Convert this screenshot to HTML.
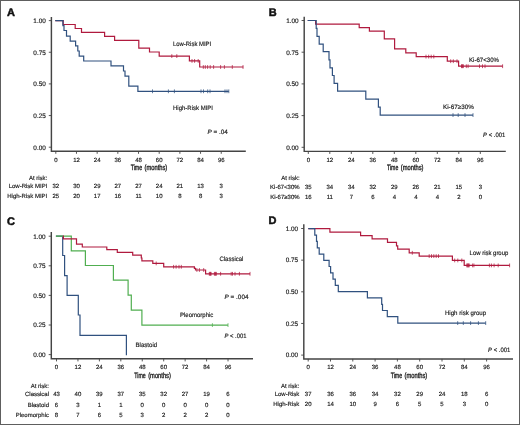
<!DOCTYPE html>
<html><head><meta charset="utf-8"><style>
html,body{margin:0;padding:0;background:#fff;}
.f{position:relative;width:518px;height:423px;border:1px solid #5e5e5e;overflow:hidden;}
svg{position:absolute;left:-1px;top:-1px;will-change:transform;}
text{font-family:"Liberation Sans", sans-serif;text-rendering:geometricPrecision;stroke:#1a1a1a;stroke-width:0.16px;}
</style></head><body><div class="f">
<svg width="520" height="425" viewBox="0 0 520 425">
<text x="7.00" y="16.00" font-size="11" text-anchor="start" font-weight="bold" font-style="normal" fill="#111" style="stroke:#111;stroke-width:0.5px">A</text>
<path d="M51.40 17.00V151.20H245.80" fill="none" stroke="#444" stroke-width="1.45"/>
<path d="M48.80 147.20H51.40" stroke="#444" stroke-width="0.9"/>
<text x="45.80" y="149.50" font-size="6.4" text-anchor="end" font-weight="normal" font-style="normal" fill="#1a1a1a">0.00</text>
<path d="M48.80 115.55H51.40" stroke="#444" stroke-width="0.9"/>
<text x="45.80" y="117.85" font-size="6.4" text-anchor="end" font-weight="normal" font-style="normal" fill="#1a1a1a">0.25</text>
<path d="M48.80 83.90H51.40" stroke="#444" stroke-width="0.9"/>
<text x="45.80" y="86.20" font-size="6.4" text-anchor="end" font-weight="normal" font-style="normal" fill="#1a1a1a">0.50</text>
<path d="M48.80 52.25H51.40" stroke="#444" stroke-width="0.9"/>
<text x="45.80" y="54.55" font-size="6.4" text-anchor="end" font-weight="normal" font-style="normal" fill="#1a1a1a">0.75</text>
<path d="M48.80 20.60H51.40" stroke="#444" stroke-width="0.9"/>
<text x="45.80" y="22.90" font-size="6.4" text-anchor="end" font-weight="normal" font-style="normal" fill="#1a1a1a">1.00</text>
<path d="M55.80 151.20V153.80" stroke="#444" stroke-width="0.9"/>
<text x="55.80" y="161.60" font-size="6" text-anchor="middle" font-weight="normal" font-style="normal" fill="#1a1a1a">0</text>
<path d="M76.48 151.20V153.80" stroke="#444" stroke-width="0.9"/>
<text x="76.48" y="161.60" font-size="6" text-anchor="middle" font-weight="normal" font-style="normal" fill="#1a1a1a">12</text>
<path d="M97.16 151.20V153.80" stroke="#444" stroke-width="0.9"/>
<text x="97.16" y="161.60" font-size="6" text-anchor="middle" font-weight="normal" font-style="normal" fill="#1a1a1a">24</text>
<path d="M117.84 151.20V153.80" stroke="#444" stroke-width="0.9"/>
<text x="117.84" y="161.60" font-size="6" text-anchor="middle" font-weight="normal" font-style="normal" fill="#1a1a1a">36</text>
<path d="M138.52 151.20V153.80" stroke="#444" stroke-width="0.9"/>
<text x="138.52" y="161.60" font-size="6" text-anchor="middle" font-weight="normal" font-style="normal" fill="#1a1a1a">48</text>
<path d="M159.20 151.20V153.80" stroke="#444" stroke-width="0.9"/>
<text x="159.20" y="161.60" font-size="6" text-anchor="middle" font-weight="normal" font-style="normal" fill="#1a1a1a">60</text>
<path d="M179.88 151.20V153.80" stroke="#444" stroke-width="0.9"/>
<text x="179.88" y="161.60" font-size="6" text-anchor="middle" font-weight="normal" font-style="normal" fill="#1a1a1a">72</text>
<path d="M200.56 151.20V153.80" stroke="#444" stroke-width="0.9"/>
<text x="200.56" y="161.60" font-size="6" text-anchor="middle" font-weight="normal" font-style="normal" fill="#1a1a1a">84</text>
<path d="M221.24 151.20V153.80" stroke="#444" stroke-width="0.9"/>
<text x="221.24" y="161.60" font-size="6" text-anchor="middle" font-weight="normal" font-style="normal" fill="#1a1a1a">96</text>
<text x="130.70" y="169.50" font-size="7.7" text-anchor="start" font-weight="normal" font-style="normal" fill="#1a1a1a" textLength="11.4" lengthAdjust="spacingAndGlyphs" style="stroke-width:0.35px">Time</text>
<text x="144.60" y="169.50" font-size="7.7" text-anchor="start" font-weight="normal" font-style="normal" fill="#1a1a1a" textLength="22.7" lengthAdjust="spacingAndGlyphs" style="stroke-width:0.35px">(months)</text>
<text x="47.30" y="179.60" font-size="6" text-anchor="end" font-weight="normal" font-style="normal" fill="#1a1a1a">At risk:</text>
<text x="47.30" y="188.30" font-size="6" text-anchor="end" font-weight="normal" font-style="normal" fill="#1a1a1a">Low-Risk MIPI</text>
<text x="55.80" y="188.30" font-size="6" text-anchor="middle" font-weight="normal" font-style="normal" fill="#1a1a1a">32</text>
<text x="76.48" y="188.30" font-size="6" text-anchor="middle" font-weight="normal" font-style="normal" fill="#1a1a1a">30</text>
<text x="97.16" y="188.30" font-size="6" text-anchor="middle" font-weight="normal" font-style="normal" fill="#1a1a1a">29</text>
<text x="117.84" y="188.30" font-size="6" text-anchor="middle" font-weight="normal" font-style="normal" fill="#1a1a1a">27</text>
<text x="138.52" y="188.30" font-size="6" text-anchor="middle" font-weight="normal" font-style="normal" fill="#1a1a1a">27</text>
<text x="159.20" y="188.30" font-size="6" text-anchor="middle" font-weight="normal" font-style="normal" fill="#1a1a1a">24</text>
<text x="179.88" y="188.30" font-size="6" text-anchor="middle" font-weight="normal" font-style="normal" fill="#1a1a1a">21</text>
<text x="200.56" y="188.30" font-size="6" text-anchor="middle" font-weight="normal" font-style="normal" fill="#1a1a1a">13</text>
<text x="221.24" y="188.30" font-size="6" text-anchor="middle" font-weight="normal" font-style="normal" fill="#1a1a1a">3</text>
<text x="47.30" y="197.70" font-size="6" text-anchor="end" font-weight="normal" font-style="normal" fill="#1a1a1a">High-Risk MIPI</text>
<text x="55.80" y="197.70" font-size="6" text-anchor="middle" font-weight="normal" font-style="normal" fill="#1a1a1a">25</text>
<text x="76.48" y="197.70" font-size="6" text-anchor="middle" font-weight="normal" font-style="normal" fill="#1a1a1a">20</text>
<text x="97.16" y="197.70" font-size="6" text-anchor="middle" font-weight="normal" font-style="normal" fill="#1a1a1a">17</text>
<text x="117.84" y="197.70" font-size="6" text-anchor="middle" font-weight="normal" font-style="normal" fill="#1a1a1a">16</text>
<text x="138.52" y="197.70" font-size="6" text-anchor="middle" font-weight="normal" font-style="normal" fill="#1a1a1a">11</text>
<text x="159.20" y="197.70" font-size="6" text-anchor="middle" font-weight="normal" font-style="normal" fill="#1a1a1a">10</text>
<text x="179.88" y="197.70" font-size="6" text-anchor="middle" font-weight="normal" font-style="normal" fill="#1a1a1a">8</text>
<text x="200.56" y="197.70" font-size="6" text-anchor="middle" font-weight="normal" font-style="normal" fill="#1a1a1a">8</text>
<text x="221.24" y="197.70" font-size="6" text-anchor="middle" font-weight="normal" font-style="normal" fill="#1a1a1a">3</text>
<path d="M55.30 20.60H63.20V24.50H75.20V28.50H81.50V32.40H104.60V36.40H114.60V40.40H138.80V48.20H149.50V52.00H159.20V56.10H189.40V60.90H199.70V67.00H243.30" fill="none" stroke="#b01a3e" stroke-width="1.2" stroke-linejoin="miter"/>
<path d="M171.80 54.20V58.00M176.80 54.20V58.00M192.00 59.00V62.80M194.60 59.00V62.80M198.20 59.00V62.80M203.30 65.10V68.90M205.30 65.10V68.90M207.60 65.10V68.90M210.20 65.10V68.90M213.60 65.10V68.90M220.60 65.10V68.90M224.40 65.10V68.90M232.30 65.10V68.90M243.00 65.10V68.90" stroke="#b01a3e" stroke-width="0.75"/>
<path d="M55.30 20.60H62.90V25.60H64.00V30.50H66.50V36.20H70.20V41.10H75.60V45.90H77.80V51.00H79.20V56.10H83.70V61.00H111.00V65.80H123.50V71.00H125.00V76.20H128.80V86.20H137.90V91.30H228.80" fill="none" stroke="#30517f" stroke-width="1.2" stroke-linejoin="miter"/>
<path d="M152.50 89.40V93.20M168.40 89.40V93.20M174.40 89.40V93.20M201.00 89.40V93.20M203.50 89.40V93.20M207.70 89.40V93.20M210.00 89.40V93.20M225.00 89.40V93.20M227.00 89.40V93.20M228.80 89.40V93.20" stroke="#30517f" stroke-width="0.75"/>
<text x="173.00" y="46.30" font-size="6.3" text-anchor="start" font-weight="normal" font-style="normal" fill="#1a1a1a" textLength="38.2" lengthAdjust="spacingAndGlyphs">Low-Risk MIPI</text>
<text x="173.00" y="110.10" font-size="6.3" text-anchor="start" font-weight="normal" font-style="normal" fill="#1a1a1a" textLength="40" lengthAdjust="spacingAndGlyphs">High-Risk MIPI</text>
<text x="207.40" y="134.10" font-size="6.3" text-anchor="start" font-weight="normal" font-style="normal" fill="#1a1a1a" textLength="20.5" lengthAdjust="spacingAndGlyphs"><tspan font-style="italic">P</tspan> = .04</text>
<text x="268.70" y="16.20" font-size="11" text-anchor="start" font-weight="bold" font-style="normal" fill="#111" style="stroke:#111;stroke-width:0.5px">B</text>
<path d="M304.20 16.80V151.35H505.80" fill="none" stroke="#444" stroke-width="1.45"/>
<path d="M301.60 147.30H304.20" stroke="#444" stroke-width="0.9"/>
<text x="298.60" y="149.60" font-size="6.4" text-anchor="end" font-weight="normal" font-style="normal" fill="#1a1a1a">0.00</text>
<path d="M301.60 115.60H304.20" stroke="#444" stroke-width="0.9"/>
<text x="298.60" y="117.90" font-size="6.4" text-anchor="end" font-weight="normal" font-style="normal" fill="#1a1a1a">0.25</text>
<path d="M301.60 83.90H304.20" stroke="#444" stroke-width="0.9"/>
<text x="298.60" y="86.20" font-size="6.4" text-anchor="end" font-weight="normal" font-style="normal" fill="#1a1a1a">0.50</text>
<path d="M301.60 52.20H304.20" stroke="#444" stroke-width="0.9"/>
<text x="298.60" y="54.50" font-size="6.4" text-anchor="end" font-weight="normal" font-style="normal" fill="#1a1a1a">0.75</text>
<path d="M301.60 20.50H304.20" stroke="#444" stroke-width="0.9"/>
<text x="298.60" y="22.80" font-size="6.4" text-anchor="end" font-weight="normal" font-style="normal" fill="#1a1a1a">1.00</text>
<path d="M308.30 151.35V153.95" stroke="#444" stroke-width="0.9"/>
<text x="308.30" y="161.80" font-size="6" text-anchor="middle" font-weight="normal" font-style="normal" fill="#1a1a1a">0</text>
<path d="M329.80 151.35V153.95" stroke="#444" stroke-width="0.9"/>
<text x="329.80" y="161.80" font-size="6" text-anchor="middle" font-weight="normal" font-style="normal" fill="#1a1a1a">12</text>
<path d="M351.30 151.35V153.95" stroke="#444" stroke-width="0.9"/>
<text x="351.30" y="161.80" font-size="6" text-anchor="middle" font-weight="normal" font-style="normal" fill="#1a1a1a">24</text>
<path d="M372.80 151.35V153.95" stroke="#444" stroke-width="0.9"/>
<text x="372.80" y="161.80" font-size="6" text-anchor="middle" font-weight="normal" font-style="normal" fill="#1a1a1a">36</text>
<path d="M394.30 151.35V153.95" stroke="#444" stroke-width="0.9"/>
<text x="394.30" y="161.80" font-size="6" text-anchor="middle" font-weight="normal" font-style="normal" fill="#1a1a1a">48</text>
<path d="M415.80 151.35V153.95" stroke="#444" stroke-width="0.9"/>
<text x="415.80" y="161.80" font-size="6" text-anchor="middle" font-weight="normal" font-style="normal" fill="#1a1a1a">60</text>
<path d="M437.30 151.35V153.95" stroke="#444" stroke-width="0.9"/>
<text x="437.30" y="161.80" font-size="6" text-anchor="middle" font-weight="normal" font-style="normal" fill="#1a1a1a">72</text>
<path d="M458.80 151.35V153.95" stroke="#444" stroke-width="0.9"/>
<text x="458.80" y="161.80" font-size="6" text-anchor="middle" font-weight="normal" font-style="normal" fill="#1a1a1a">84</text>
<path d="M480.30 151.35V153.95" stroke="#444" stroke-width="0.9"/>
<text x="480.30" y="161.80" font-size="6" text-anchor="middle" font-weight="normal" font-style="normal" fill="#1a1a1a">96</text>
<text x="386.95" y="170.00" font-size="7.7" text-anchor="start" font-weight="normal" font-style="normal" fill="#1a1a1a" textLength="11.4" lengthAdjust="spacingAndGlyphs" style="stroke-width:0.35px">Time</text>
<text x="400.85" y="170.00" font-size="7.7" text-anchor="start" font-weight="normal" font-style="normal" fill="#1a1a1a" textLength="22.7" lengthAdjust="spacingAndGlyphs" style="stroke-width:0.35px">(months)</text>
<text x="299.60" y="179.90" font-size="6" text-anchor="end" font-weight="normal" font-style="normal" fill="#1a1a1a">At risk:</text>
<text x="299.60" y="188.70" font-size="6" text-anchor="end" font-weight="normal" font-style="normal" fill="#1a1a1a">Ki-67&lt;30%</text>
<text x="308.30" y="188.70" font-size="6" text-anchor="middle" font-weight="normal" font-style="normal" fill="#1a1a1a">35</text>
<text x="329.80" y="188.70" font-size="6" text-anchor="middle" font-weight="normal" font-style="normal" fill="#1a1a1a">34</text>
<text x="351.30" y="188.70" font-size="6" text-anchor="middle" font-weight="normal" font-style="normal" fill="#1a1a1a">34</text>
<text x="372.80" y="188.70" font-size="6" text-anchor="middle" font-weight="normal" font-style="normal" fill="#1a1a1a">32</text>
<text x="394.30" y="188.70" font-size="6" text-anchor="middle" font-weight="normal" font-style="normal" fill="#1a1a1a">29</text>
<text x="415.80" y="188.70" font-size="6" text-anchor="middle" font-weight="normal" font-style="normal" fill="#1a1a1a">26</text>
<text x="437.30" y="188.70" font-size="6" text-anchor="middle" font-weight="normal" font-style="normal" fill="#1a1a1a">21</text>
<text x="458.80" y="188.70" font-size="6" text-anchor="middle" font-weight="normal" font-style="normal" fill="#1a1a1a">15</text>
<text x="480.30" y="188.70" font-size="6" text-anchor="middle" font-weight="normal" font-style="normal" fill="#1a1a1a">3</text>
<text x="299.60" y="198.60" font-size="6" text-anchor="end" font-weight="normal" font-style="normal" fill="#1a1a1a">Ki-67≥30%</text>
<text x="308.30" y="198.60" font-size="6" text-anchor="middle" font-weight="normal" font-style="normal" fill="#1a1a1a">16</text>
<text x="329.80" y="198.60" font-size="6" text-anchor="middle" font-weight="normal" font-style="normal" fill="#1a1a1a">11</text>
<text x="351.30" y="198.60" font-size="6" text-anchor="middle" font-weight="normal" font-style="normal" fill="#1a1a1a">7</text>
<text x="372.80" y="198.60" font-size="6" text-anchor="middle" font-weight="normal" font-style="normal" fill="#1a1a1a">6</text>
<text x="394.30" y="198.60" font-size="6" text-anchor="middle" font-weight="normal" font-style="normal" fill="#1a1a1a">4</text>
<text x="415.80" y="198.60" font-size="6" text-anchor="middle" font-weight="normal" font-style="normal" fill="#1a1a1a">4</text>
<text x="437.30" y="198.60" font-size="6" text-anchor="middle" font-weight="normal" font-style="normal" fill="#1a1a1a">4</text>
<text x="458.80" y="198.60" font-size="6" text-anchor="middle" font-weight="normal" font-style="normal" fill="#1a1a1a">2</text>
<text x="480.30" y="198.60" font-size="6" text-anchor="middle" font-weight="normal" font-style="normal" fill="#1a1a1a">0</text>
<path d="M307.70 20.50H315.60V24.20H359.20V27.60H369.40V31.10H384.30V38.80H394.60V48.90H405.80V52.80H416.20V56.60H447.30V61.20H458.60V66.20H502.60" fill="none" stroke="#b01a3e" stroke-width="1.2" stroke-linejoin="miter"/>
<path d="M426.00 54.70V58.50M428.70 54.70V58.50M431.20 54.70V58.50M433.80 54.70V58.50M450.70 59.30V63.10M453.30 59.30V63.10M457.00 59.30V63.10M461.50 64.30V68.10M462.10 64.30V68.10M462.70 64.30V68.10M463.30 64.30V68.10M466.30 64.30V68.10M468.10 64.30V68.10M479.50 64.30V68.10M482.50 64.30V68.10M485.00 64.30V68.10M502.60 64.30V68.10" stroke="#b01a3e" stroke-width="0.75"/>
<path d="M307.70 20.50H316.20V28.40H317.00V36.30H319.20V44.20H323.20V51.60H329.00V59.80H330.00V67.80H332.40V75.50H334.10V83.30H337.60V91.10H365.80V99.10H378.40V107.20H380.20V115.10H473.00" fill="none" stroke="#30517f" stroke-width="1.2" stroke-linejoin="miter"/>
<path d="M453.00 113.20V117.00M458.20 113.20V117.00M465.00 113.20V117.00M473.00 113.20V117.00" stroke="#30517f" stroke-width="0.75"/>
<text x="469.00" y="62.10" font-size="6.3" text-anchor="start" font-weight="normal" font-style="normal" fill="#1a1a1a" textLength="30" lengthAdjust="spacingAndGlyphs">Ki-67&lt;30%</text>
<text x="443.00" y="108.60" font-size="6.3" text-anchor="start" font-weight="normal" font-style="normal" fill="#1a1a1a" textLength="30.8" lengthAdjust="spacingAndGlyphs">Ki-67≥30%</text>
<text x="483.00" y="137.10" font-size="6.3" text-anchor="start" font-weight="normal" font-style="normal" fill="#1a1a1a" textLength="22.4" lengthAdjust="spacingAndGlyphs"><tspan font-style="italic">P</tspan> &lt; .001</text>
<text x="6.90" y="224.60" font-size="11" text-anchor="start" font-weight="bold" font-style="normal" fill="#111" style="stroke:#111;stroke-width:0.5px">C</text>
<path d="M51.30 232.00V358.80H253.00" fill="none" stroke="#444" stroke-width="1.45"/>
<path d="M48.70 354.60H51.30" stroke="#444" stroke-width="0.9"/>
<text x="45.70" y="356.90" font-size="6.4" text-anchor="end" font-weight="normal" font-style="normal" fill="#1a1a1a">0.00</text>
<path d="M48.70 325.00H51.30" stroke="#444" stroke-width="0.9"/>
<text x="45.70" y="327.30" font-size="6.4" text-anchor="end" font-weight="normal" font-style="normal" fill="#1a1a1a">0.25</text>
<path d="M48.70 295.40H51.30" stroke="#444" stroke-width="0.9"/>
<text x="45.70" y="297.70" font-size="6.4" text-anchor="end" font-weight="normal" font-style="normal" fill="#1a1a1a">0.50</text>
<path d="M48.70 265.80H51.30" stroke="#444" stroke-width="0.9"/>
<text x="45.70" y="268.10" font-size="6.4" text-anchor="end" font-weight="normal" font-style="normal" fill="#1a1a1a">0.75</text>
<path d="M48.70 236.20H51.30" stroke="#444" stroke-width="0.9"/>
<text x="45.70" y="238.50" font-size="6.4" text-anchor="end" font-weight="normal" font-style="normal" fill="#1a1a1a">1.00</text>
<path d="M56.50 358.80V361.40" stroke="#444" stroke-width="0.9"/>
<text x="56.50" y="369.20" font-size="6" text-anchor="middle" font-weight="normal" font-style="normal" fill="#1a1a1a">0</text>
<path d="M77.94 358.80V361.40" stroke="#444" stroke-width="0.9"/>
<text x="77.94" y="369.20" font-size="6" text-anchor="middle" font-weight="normal" font-style="normal" fill="#1a1a1a">12</text>
<path d="M99.38 358.80V361.40" stroke="#444" stroke-width="0.9"/>
<text x="99.38" y="369.20" font-size="6" text-anchor="middle" font-weight="normal" font-style="normal" fill="#1a1a1a">24</text>
<path d="M120.82 358.80V361.40" stroke="#444" stroke-width="0.9"/>
<text x="120.82" y="369.20" font-size="6" text-anchor="middle" font-weight="normal" font-style="normal" fill="#1a1a1a">36</text>
<path d="M142.26 358.80V361.40" stroke="#444" stroke-width="0.9"/>
<text x="142.26" y="369.20" font-size="6" text-anchor="middle" font-weight="normal" font-style="normal" fill="#1a1a1a">48</text>
<path d="M163.70 358.80V361.40" stroke="#444" stroke-width="0.9"/>
<text x="163.70" y="369.20" font-size="6" text-anchor="middle" font-weight="normal" font-style="normal" fill="#1a1a1a">60</text>
<path d="M185.14 358.80V361.40" stroke="#444" stroke-width="0.9"/>
<text x="185.14" y="369.20" font-size="6" text-anchor="middle" font-weight="normal" font-style="normal" fill="#1a1a1a">72</text>
<path d="M206.58 358.80V361.40" stroke="#444" stroke-width="0.9"/>
<text x="206.58" y="369.20" font-size="6" text-anchor="middle" font-weight="normal" font-style="normal" fill="#1a1a1a">84</text>
<path d="M228.02 358.80V361.40" stroke="#444" stroke-width="0.9"/>
<text x="228.02" y="369.20" font-size="6" text-anchor="middle" font-weight="normal" font-style="normal" fill="#1a1a1a">96</text>
<text x="134.30" y="377.80" font-size="7.7" text-anchor="start" font-weight="normal" font-style="normal" fill="#1a1a1a" textLength="11.4" lengthAdjust="spacingAndGlyphs" style="stroke-width:0.35px">Time</text>
<text x="148.20" y="377.80" font-size="7.7" text-anchor="start" font-weight="normal" font-style="normal" fill="#1a1a1a" textLength="22.7" lengthAdjust="spacingAndGlyphs" style="stroke-width:0.35px">(months)</text>
<text x="49.00" y="387.50" font-size="6" text-anchor="end" font-weight="normal" font-style="normal" fill="#1a1a1a">At risk:</text>
<text x="49.00" y="395.90" font-size="6" text-anchor="end" font-weight="normal" font-style="normal" fill="#1a1a1a">Classical</text>
<text x="56.50" y="395.90" font-size="6" text-anchor="middle" font-weight="normal" font-style="normal" fill="#1a1a1a">43</text>
<text x="77.94" y="395.90" font-size="6" text-anchor="middle" font-weight="normal" font-style="normal" fill="#1a1a1a">40</text>
<text x="99.38" y="395.90" font-size="6" text-anchor="middle" font-weight="normal" font-style="normal" fill="#1a1a1a">39</text>
<text x="120.82" y="395.90" font-size="6" text-anchor="middle" font-weight="normal" font-style="normal" fill="#1a1a1a">37</text>
<text x="142.26" y="395.90" font-size="6" text-anchor="middle" font-weight="normal" font-style="normal" fill="#1a1a1a">35</text>
<text x="163.70" y="395.90" font-size="6" text-anchor="middle" font-weight="normal" font-style="normal" fill="#1a1a1a">32</text>
<text x="185.14" y="395.90" font-size="6" text-anchor="middle" font-weight="normal" font-style="normal" fill="#1a1a1a">27</text>
<text x="206.58" y="395.90" font-size="6" text-anchor="middle" font-weight="normal" font-style="normal" fill="#1a1a1a">19</text>
<text x="228.02" y="395.90" font-size="6" text-anchor="middle" font-weight="normal" font-style="normal" fill="#1a1a1a">6</text>
<text x="49.00" y="406.80" font-size="6" text-anchor="end" font-weight="normal" font-style="normal" fill="#1a1a1a">Blastoid</text>
<text x="56.50" y="406.80" font-size="6" text-anchor="middle" font-weight="normal" font-style="normal" fill="#1a1a1a">6</text>
<text x="77.94" y="406.80" font-size="6" text-anchor="middle" font-weight="normal" font-style="normal" fill="#1a1a1a">3</text>
<text x="99.38" y="406.80" font-size="6" text-anchor="middle" font-weight="normal" font-style="normal" fill="#1a1a1a">1</text>
<text x="120.82" y="406.80" font-size="6" text-anchor="middle" font-weight="normal" font-style="normal" fill="#1a1a1a">1</text>
<text x="142.26" y="406.80" font-size="6" text-anchor="middle" font-weight="normal" font-style="normal" fill="#1a1a1a">0</text>
<text x="163.70" y="406.80" font-size="6" text-anchor="middle" font-weight="normal" font-style="normal" fill="#1a1a1a">0</text>
<text x="185.14" y="406.80" font-size="6" text-anchor="middle" font-weight="normal" font-style="normal" fill="#1a1a1a">0</text>
<text x="206.58" y="406.80" font-size="6" text-anchor="middle" font-weight="normal" font-style="normal" fill="#1a1a1a">0</text>
<text x="228.02" y="406.80" font-size="6" text-anchor="middle" font-weight="normal" font-style="normal" fill="#1a1a1a">0</text>
<text x="49.00" y="416.60" font-size="6" text-anchor="end" font-weight="normal" font-style="normal" fill="#1a1a1a">Pleomorphic</text>
<text x="56.50" y="416.60" font-size="6" text-anchor="middle" font-weight="normal" font-style="normal" fill="#1a1a1a">8</text>
<text x="77.94" y="416.60" font-size="6" text-anchor="middle" font-weight="normal" font-style="normal" fill="#1a1a1a">7</text>
<text x="99.38" y="416.60" font-size="6" text-anchor="middle" font-weight="normal" font-style="normal" fill="#1a1a1a">6</text>
<text x="120.82" y="416.60" font-size="6" text-anchor="middle" font-weight="normal" font-style="normal" fill="#1a1a1a">5</text>
<text x="142.26" y="416.60" font-size="6" text-anchor="middle" font-weight="normal" font-style="normal" fill="#1a1a1a">3</text>
<text x="163.70" y="416.60" font-size="6" text-anchor="middle" font-weight="normal" font-style="normal" fill="#1a1a1a">2</text>
<text x="185.14" y="416.60" font-size="6" text-anchor="middle" font-weight="normal" font-style="normal" fill="#1a1a1a">2</text>
<text x="206.58" y="416.60" font-size="6" text-anchor="middle" font-weight="normal" font-style="normal" fill="#1a1a1a">2</text>
<text x="228.02" y="416.60" font-size="6" text-anchor="middle" font-weight="normal" font-style="normal" fill="#1a1a1a">0</text>
<path d="M55.90 236.20H62.70V255.50H64.60V275.60H67.10V295.40H78.30V315.00H80.00V335.40H126.40V355.20" fill="none" stroke="#30517f" stroke-width="1.2" stroke-linejoin="miter"/>
<path d="M55.90 236.20H71.30V250.80H85.40V265.50H113.40V280.20H128.10V295.10H131.30V310.10H141.90V325.10H228.00" fill="none" stroke="#50ae50" stroke-width="1.2" stroke-linejoin="miter"/>
<path d="M212.40 323.20V327.00M228.00 323.20V327.00" stroke="#50ae50" stroke-width="0.75"/>
<path d="M62.90 236.20H63.40V238.80H76.50V244.20H82.30V247.00H106.80V249.70H117.30V252.40H132.70V255.10H141.30V258.00H141.90V260.80H152.80V263.40H163.70V266.80H194.40V268.40H195.50V270.00H205.60V273.80H250.00" fill="none" stroke="#b01a3e" stroke-width="1.2" stroke-linejoin="miter"/>
<path d="M156.20 261.50V265.30M173.60 264.90V268.70M176.10 264.90V268.70M179.00 264.90V268.70M181.30 264.90V268.70M196.90 268.10V271.90M199.40 268.10V271.90M203.70 268.10V271.90M209.30 271.90V275.70M209.90 271.90V275.70M210.50 271.90V275.70M211.10 271.90V275.70M214.40 271.90V275.70M215.10 271.90V275.70M215.70 271.90V275.70M216.30 271.90V275.70M220.60 271.90V275.70M231.20 271.90V275.70M232.50 271.90V275.70M235.00 271.90V275.70M239.40 271.90V275.70M250.00 271.90V275.70" stroke="#b01a3e" stroke-width="0.75"/>
<text x="219.40" y="260.90" font-size="6.3" text-anchor="start" font-weight="normal" font-style="normal" fill="#1a1a1a" textLength="24" lengthAdjust="spacingAndGlyphs">Classical</text>
<text x="224.50" y="299.40" font-size="6.3" text-anchor="start" font-weight="normal" font-style="normal" fill="#1a1a1a" textLength="24" lengthAdjust="spacingAndGlyphs"><tspan font-style="italic">P</tspan> = .004</text>
<text x="180.00" y="317.10" font-size="6.3" text-anchor="start" font-weight="normal" font-style="normal" fill="#1a1a1a" textLength="33.3" lengthAdjust="spacingAndGlyphs">Pleomorphic</text>
<text x="224.50" y="337.50" font-size="6.3" text-anchor="start" font-weight="normal" font-style="normal" fill="#1a1a1a" textLength="22" lengthAdjust="spacingAndGlyphs"><tspan font-style="italic">P</tspan> &lt; .001</text>
<text x="135.60" y="346.60" font-size="6.3" text-anchor="start" font-weight="normal" font-style="normal" fill="#1a1a1a" textLength="21.5" lengthAdjust="spacingAndGlyphs">Blastoid</text>
<text x="268.50" y="224.30" font-size="11" text-anchor="start" font-weight="bold" font-style="normal" fill="#111" style="stroke:#111;stroke-width:0.5px">D</text>
<path d="M303.80 224.30V358.90H513.00" fill="none" stroke="#444" stroke-width="1.45"/>
<path d="M301.20 355.10H303.80" stroke="#444" stroke-width="0.9"/>
<text x="298.20" y="357.40" font-size="6.4" text-anchor="end" font-weight="normal" font-style="normal" fill="#1a1a1a">0.00</text>
<path d="M301.20 323.45H303.80" stroke="#444" stroke-width="0.9"/>
<text x="298.20" y="325.75" font-size="6.4" text-anchor="end" font-weight="normal" font-style="normal" fill="#1a1a1a">0.25</text>
<path d="M301.20 291.80H303.80" stroke="#444" stroke-width="0.9"/>
<text x="298.20" y="294.10" font-size="6.4" text-anchor="end" font-weight="normal" font-style="normal" fill="#1a1a1a">0.50</text>
<path d="M301.20 260.15H303.80" stroke="#444" stroke-width="0.9"/>
<text x="298.20" y="262.45" font-size="6.4" text-anchor="end" font-weight="normal" font-style="normal" fill="#1a1a1a">0.75</text>
<path d="M301.20 228.50H303.80" stroke="#444" stroke-width="0.9"/>
<text x="298.20" y="230.80" font-size="6.4" text-anchor="end" font-weight="normal" font-style="normal" fill="#1a1a1a">1.00</text>
<path d="M308.20 358.90V361.50" stroke="#444" stroke-width="0.9"/>
<text x="308.20" y="369.00" font-size="6" text-anchor="middle" font-weight="normal" font-style="normal" fill="#1a1a1a">0</text>
<path d="M330.50 358.90V361.50" stroke="#444" stroke-width="0.9"/>
<text x="330.50" y="369.00" font-size="6" text-anchor="middle" font-weight="normal" font-style="normal" fill="#1a1a1a">12</text>
<path d="M352.80 358.90V361.50" stroke="#444" stroke-width="0.9"/>
<text x="352.80" y="369.00" font-size="6" text-anchor="middle" font-weight="normal" font-style="normal" fill="#1a1a1a">24</text>
<path d="M375.10 358.90V361.50" stroke="#444" stroke-width="0.9"/>
<text x="375.10" y="369.00" font-size="6" text-anchor="middle" font-weight="normal" font-style="normal" fill="#1a1a1a">36</text>
<path d="M397.40 358.90V361.50" stroke="#444" stroke-width="0.9"/>
<text x="397.40" y="369.00" font-size="6" text-anchor="middle" font-weight="normal" font-style="normal" fill="#1a1a1a">48</text>
<path d="M419.70 358.90V361.50" stroke="#444" stroke-width="0.9"/>
<text x="419.70" y="369.00" font-size="6" text-anchor="middle" font-weight="normal" font-style="normal" fill="#1a1a1a">60</text>
<path d="M442.00 358.90V361.50" stroke="#444" stroke-width="0.9"/>
<text x="442.00" y="369.00" font-size="6" text-anchor="middle" font-weight="normal" font-style="normal" fill="#1a1a1a">72</text>
<path d="M464.30 358.90V361.50" stroke="#444" stroke-width="0.9"/>
<text x="464.30" y="369.00" font-size="6" text-anchor="middle" font-weight="normal" font-style="normal" fill="#1a1a1a">84</text>
<path d="M486.60 358.90V361.50" stroke="#444" stroke-width="0.9"/>
<text x="486.60" y="369.00" font-size="6" text-anchor="middle" font-weight="normal" font-style="normal" fill="#1a1a1a">96</text>
<text x="390.70" y="378.40" font-size="7.7" text-anchor="start" font-weight="normal" font-style="normal" fill="#1a1a1a" textLength="11.4" lengthAdjust="spacingAndGlyphs" style="stroke-width:0.35px">Time</text>
<text x="404.60" y="378.40" font-size="7.7" text-anchor="start" font-weight="normal" font-style="normal" fill="#1a1a1a" textLength="22.7" lengthAdjust="spacingAndGlyphs" style="stroke-width:0.35px">(months)</text>
<text x="299.30" y="387.50" font-size="6" text-anchor="end" font-weight="normal" font-style="normal" fill="#1a1a1a">At risk:</text>
<text x="299.30" y="395.90" font-size="6" text-anchor="end" font-weight="normal" font-style="normal" fill="#1a1a1a">Low-Risk</text>
<text x="308.20" y="395.90" font-size="6" text-anchor="middle" font-weight="normal" font-style="normal" fill="#1a1a1a">37</text>
<text x="330.50" y="395.90" font-size="6" text-anchor="middle" font-weight="normal" font-style="normal" fill="#1a1a1a">36</text>
<text x="352.80" y="395.90" font-size="6" text-anchor="middle" font-weight="normal" font-style="normal" fill="#1a1a1a">36</text>
<text x="375.10" y="395.90" font-size="6" text-anchor="middle" font-weight="normal" font-style="normal" fill="#1a1a1a">34</text>
<text x="397.40" y="395.90" font-size="6" text-anchor="middle" font-weight="normal" font-style="normal" fill="#1a1a1a">32</text>
<text x="419.70" y="395.90" font-size="6" text-anchor="middle" font-weight="normal" font-style="normal" fill="#1a1a1a">29</text>
<text x="442.00" y="395.90" font-size="6" text-anchor="middle" font-weight="normal" font-style="normal" fill="#1a1a1a">24</text>
<text x="464.30" y="395.90" font-size="6" text-anchor="middle" font-weight="normal" font-style="normal" fill="#1a1a1a">18</text>
<text x="486.60" y="395.90" font-size="6" text-anchor="middle" font-weight="normal" font-style="normal" fill="#1a1a1a">6</text>
<text x="299.30" y="405.60" font-size="6" text-anchor="end" font-weight="normal" font-style="normal" fill="#1a1a1a">High-Risk</text>
<text x="308.20" y="405.60" font-size="6" text-anchor="middle" font-weight="normal" font-style="normal" fill="#1a1a1a">20</text>
<text x="330.50" y="405.60" font-size="6" text-anchor="middle" font-weight="normal" font-style="normal" fill="#1a1a1a">14</text>
<text x="352.80" y="405.60" font-size="6" text-anchor="middle" font-weight="normal" font-style="normal" fill="#1a1a1a">10</text>
<text x="375.10" y="405.60" font-size="6" text-anchor="middle" font-weight="normal" font-style="normal" fill="#1a1a1a">9</text>
<text x="397.40" y="405.60" font-size="6" text-anchor="middle" font-weight="normal" font-style="normal" fill="#1a1a1a">6</text>
<text x="419.70" y="405.60" font-size="6" text-anchor="middle" font-weight="normal" font-style="normal" fill="#1a1a1a">5</text>
<text x="442.00" y="405.60" font-size="6" text-anchor="middle" font-weight="normal" font-style="normal" fill="#1a1a1a">5</text>
<text x="464.30" y="405.60" font-size="6" text-anchor="middle" font-weight="normal" font-style="normal" fill="#1a1a1a">3</text>
<text x="486.60" y="405.60" font-size="6" text-anchor="middle" font-weight="normal" font-style="normal" fill="#1a1a1a">0</text>
<path d="M308.30 228.60H329.90V232.10H360.60V235.60H372.10V238.90H387.50V242.40H396.50V245.80H397.70V249.20H409.20V252.80H419.20V256.10H452.40V260.40H464.20V265.40H509.60" fill="none" stroke="#b01a3e" stroke-width="1.2" stroke-linejoin="miter"/>
<path d="M412.30 250.90V254.70M429.20 254.20V258.00M431.50 254.20V258.00M433.80 254.20V258.00M436.20 254.20V258.00M438.50 254.20V258.00M454.70 258.50V262.30M457.80 258.50V262.30M461.80 258.50V262.30M466.80 263.50V267.30M467.40 263.50V267.30M468.00 263.50V267.30M468.60 263.50V267.30M469.20 263.50V267.30M472.60 263.50V267.30M473.90 263.50V267.30M489.40 263.50V267.30M491.40 263.50V267.30M494.10 263.50V267.30M498.20 263.50V267.30M509.60 263.50V267.30" stroke="#b01a3e" stroke-width="0.75"/>
<path d="M308.30 228.60H314.80V235.10H316.50V241.40H317.30V247.80H319.20V254.10H323.80V260.40H329.10V266.50H330.60V272.80H333.00V279.10H335.30V285.40H338.30V291.70H367.40V297.90H381.70V304.30H382.50V310.50H387.30V316.60H397.80V323.10H485.70" fill="none" stroke="#30517f" stroke-width="1.2" stroke-linejoin="miter"/>
<path d="M457.70 321.20V325.00M463.30 321.20V325.00M470.60 321.20V325.00M478.40 321.20V325.00M485.70 321.20V325.00" stroke="#30517f" stroke-width="0.75"/>
<text x="469.60" y="255.20" font-size="6.3" text-anchor="start" font-weight="normal" font-style="normal" fill="#1a1a1a" textLength="38.7" lengthAdjust="spacingAndGlyphs">Low risk group</text>
<text x="444.90" y="314.80" font-size="6.3" text-anchor="start" font-weight="normal" font-style="normal" fill="#1a1a1a" textLength="41.3" lengthAdjust="spacingAndGlyphs">High risk group</text>
<text x="488.00" y="351.90" font-size="6.3" text-anchor="start" font-weight="normal" font-style="normal" fill="#1a1a1a" textLength="22.4" lengthAdjust="spacingAndGlyphs"><tspan font-style="italic">P</tspan> &lt; .001</text>
</svg></div></body></html>
